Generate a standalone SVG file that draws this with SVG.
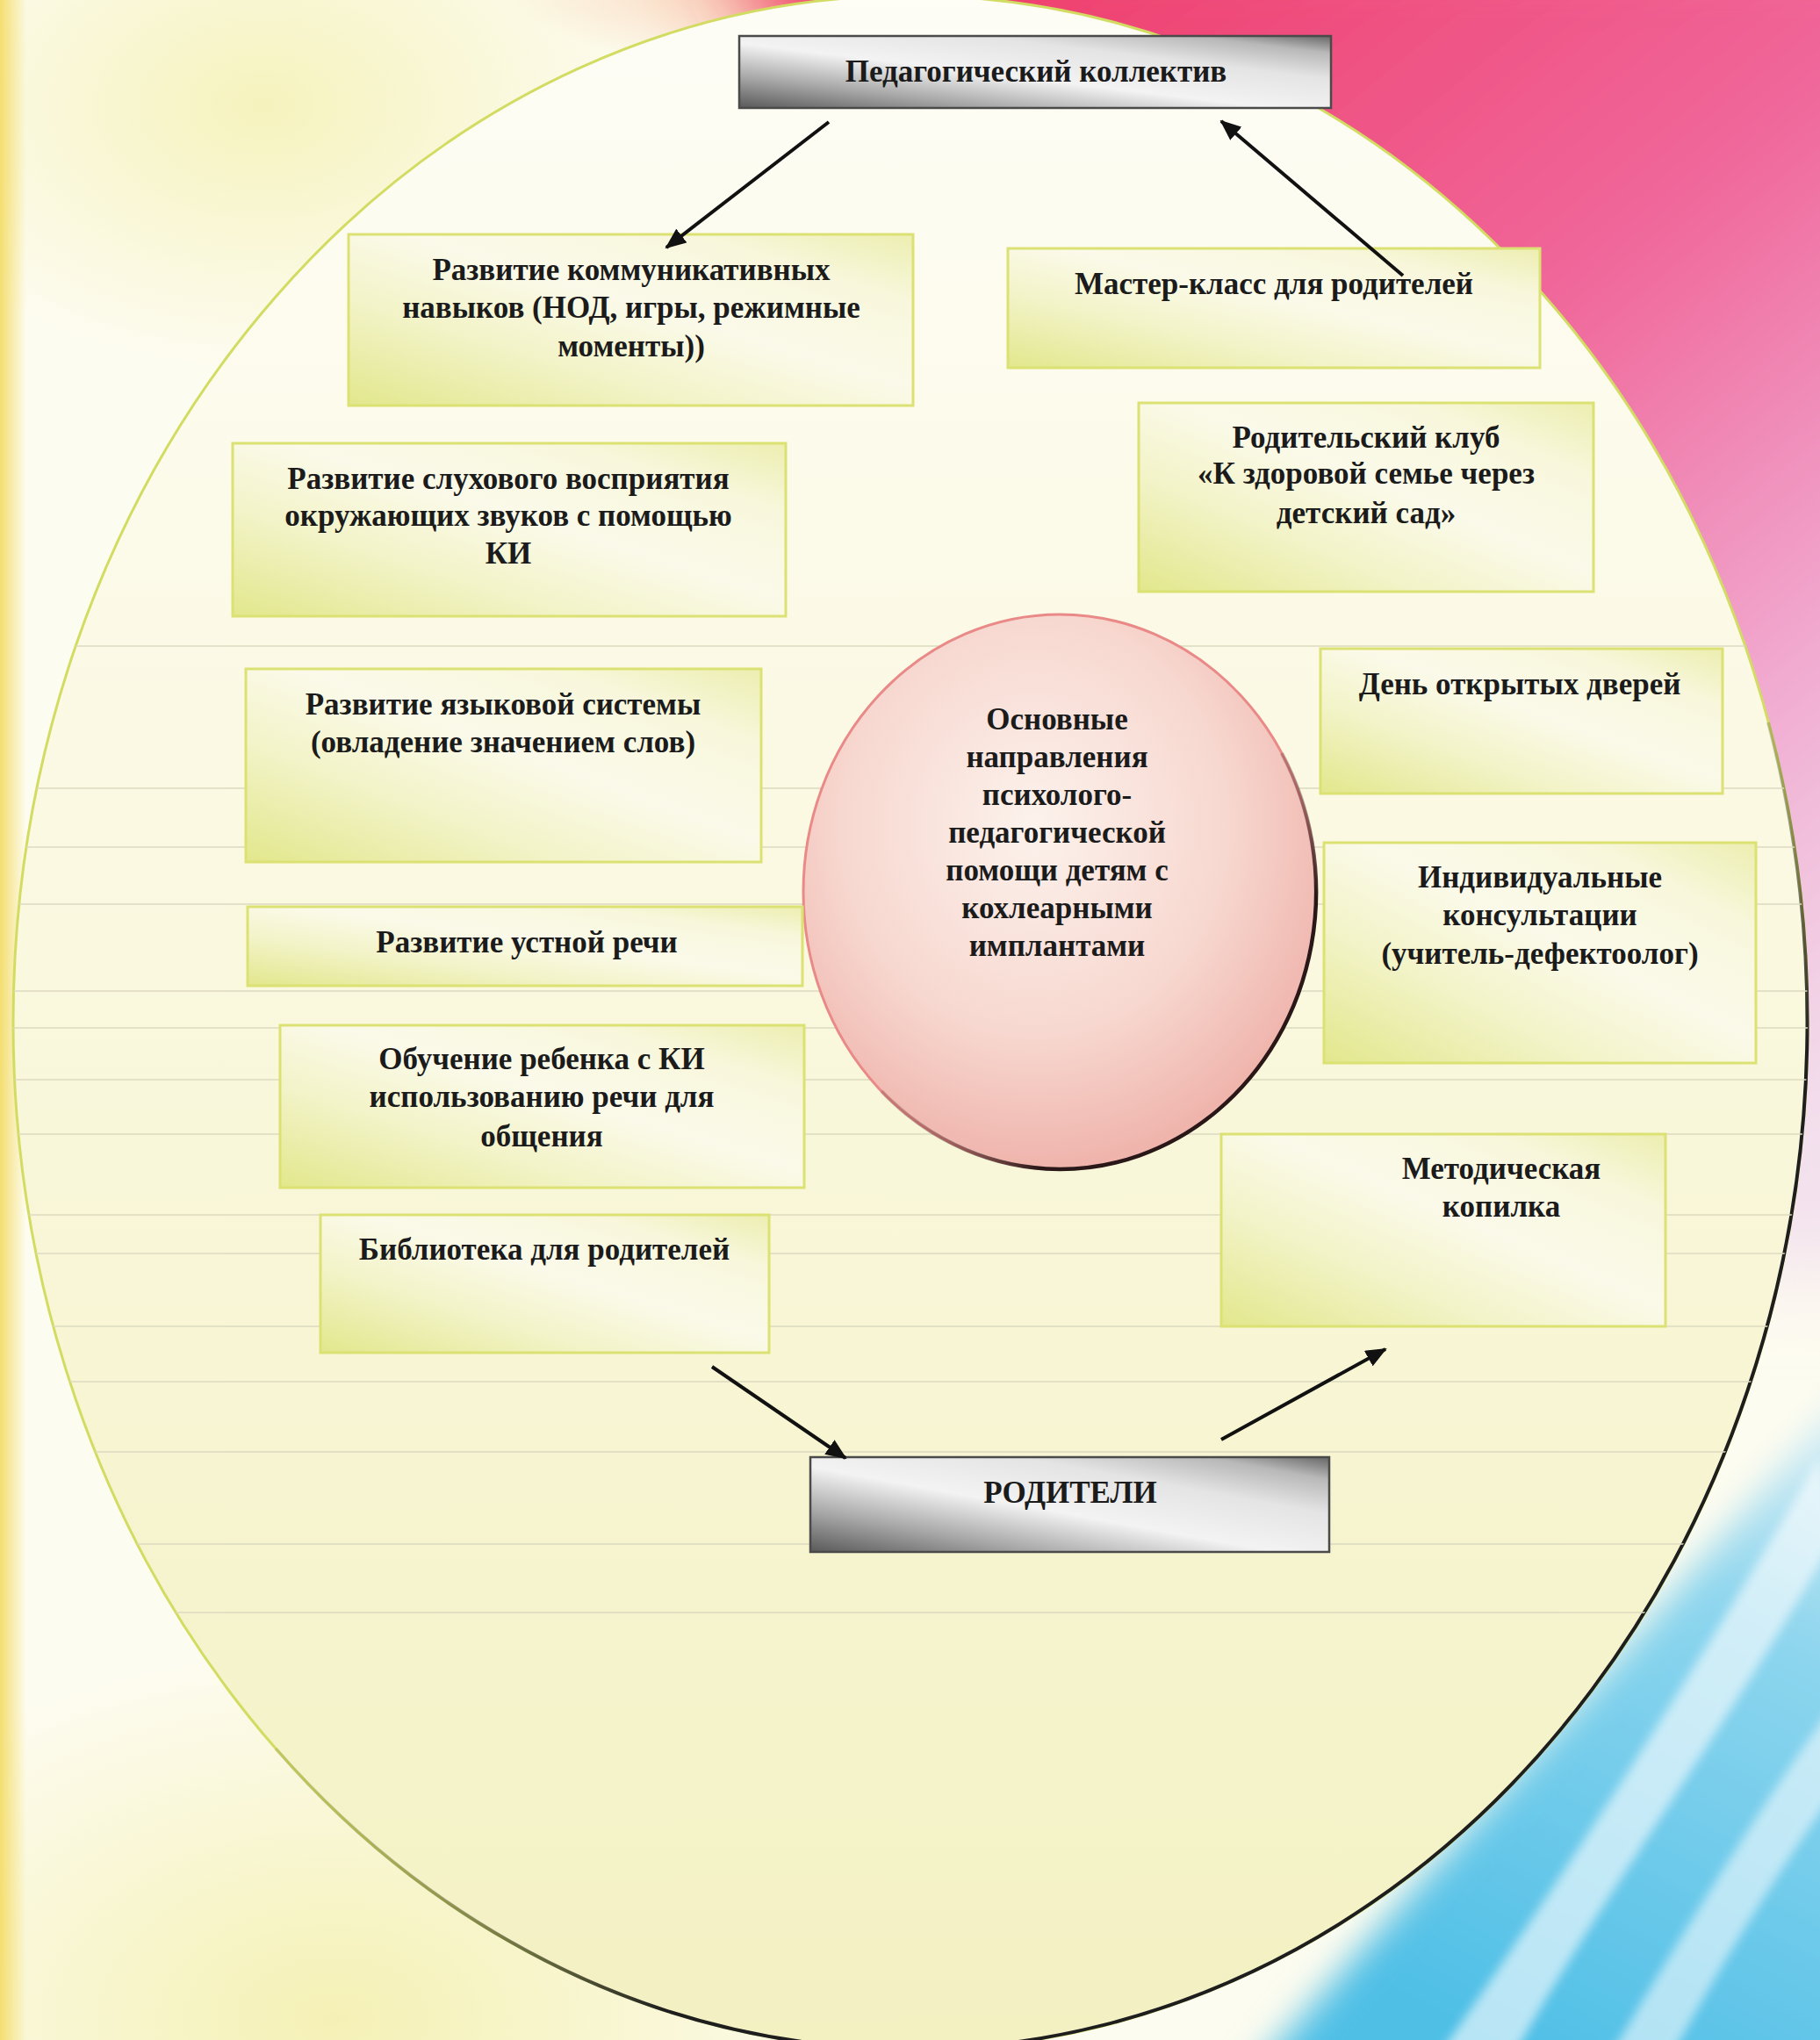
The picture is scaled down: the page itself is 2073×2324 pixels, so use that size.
<svg xmlns="http://www.w3.org/2000/svg" width="2073" height="2324" viewBox="0 0 2073 2324">
<defs>
<style>
.t{font-family:"Liberation Serif","Times New Roman",serif;font-size:35px;font-weight:bold;fill:#1b1b1b;text-anchor:middle}
.box{fill:url(#boxg);stroke:#dbe173;stroke-width:3}
.gbox{fill:url(#grayg);stroke:#4a4a4a;stroke-width:2.5}
.conn{stroke:#111;stroke-width:4;fill:none;marker-end:url(#arrow)}
.ruled{stroke:#dcdac0;stroke-width:2;opacity:.75}
</style>
<marker id="arrow" viewBox="0 0 12 10" refX="11" refY="5" markerWidth="6" markerHeight="5" orient="auto" markerUnits="strokeWidth">
<path d="M0,0 L12,5 L0,10 z" fill="#111"/>
</marker>
<linearGradient id="grayg" x1="0" y1="1" x2="1" y2="0">
<stop offset="0" stop-color="#595959"/><stop offset=".22" stop-color="#a8a8a8"/><stop offset=".45" stop-color="#f3f3f3"/><stop offset=".7" stop-color="#e4e4e4"/><stop offset=".88" stop-color="#b8b8b8"/><stop offset="1" stop-color="#666"/>
</linearGradient>
<linearGradient id="boxg" x1="0" y1="1" x2="1" y2="0">
<stop offset="0" stop-color="#e2e78c"/><stop offset=".3" stop-color="#f2f3c6"/><stop offset=".55" stop-color="#fbfaea"/><stop offset=".8" stop-color="#f8f7dc"/><stop offset="1" stop-color="#eceeb0"/>
</linearGradient>
<linearGradient id="inner" x1="0" y1="0" x2="0" y2="1">
<stop offset="0" stop-color="#fefdf6"/><stop offset=".4" stop-color="#fbf9e2"/><stop offset="1" stop-color="#f3f1c2"/>
</linearGradient>
<radialGradient id="circg" cx=".45" cy=".38" r=".62">
<stop offset="0" stop-color="#fcf2ec"/><stop offset=".6" stop-color="#f7d8d0"/><stop offset="1" stop-color="#efb4ac"/>
</radialGradient>
<linearGradient id="pinkg" gradientUnits="userSpaceOnUse" x1="1000" y1="0" x2="2073" y2="1300">
<stop offset="0" stop-color="#ef3a68"/><stop offset=".45" stop-color="#f0679a"/><stop offset=".75" stop-color="#f1acd2"/><stop offset="1" stop-color="#f3e2ee"/>
</linearGradient>
<radialGradient id="peachg" cx=".5" cy=".5" r=".5">
<stop offset="0" stop-color="#f5b48e"/><stop offset="1" stop-color="#f5b48e" stop-opacity="0"/>
</radialGradient>
<radialGradient id="yellowg" cx=".5" cy=".5" r=".5">
<stop offset="0" stop-color="#f1ec9c"/><stop offset="1" stop-color="#f1ec9c" stop-opacity="0"/>
</radialGradient>
<linearGradient id="leftstrip" x1="0" y1="0" x2="1" y2="0">
<stop offset="0" stop-color="#f4de70"/><stop offset="1" stop-color="#f4de70" stop-opacity="0"/>
</linearGradient>
<linearGradient id="cyang" gradientUnits="userSpaceOnUse" x1="2073" y1="1600" x2="1700" y2="2324">
<stop offset="0" stop-color="#d8eef6"/><stop offset=".3" stop-color="#8fd6ee"/><stop offset="1" stop-color="#4fbfe6"/>
</linearGradient>
<linearGradient id="darkfade" gradientUnits="userSpaceOnUse" x1="2030" y1="780" x2="300" y2="2010">
<stop offset="0" stop-color="#1e1e1e" stop-opacity="0"/><stop offset=".1" stop-color="#1e1e1e"/><stop offset=".9" stop-color="#1e1e1e"/><stop offset="1" stop-color="#1e1e1e" stop-opacity="0"/>
</linearGradient>
<linearGradient id="cdark" gradientUnits="userSpaceOnUse" x1="1470" y1="840" x2="990" y2="1250">
<stop offset="0" stop-color="#2a1818" stop-opacity="0"/><stop offset=".15" stop-color="#2a1818"/><stop offset=".85" stop-color="#2a1818"/><stop offset="1" stop-color="#2a1818" stop-opacity="0"/>
</linearGradient>
<filter id="blur50" x="-30%" y="-30%" width="160%" height="160%"><feGaussianBlur stdDeviation="50"/></filter>
<filter id="blur20" x="-30%" y="-30%" width="160%" height="160%"><feGaussianBlur stdDeviation="20"/></filter>
<filter id="blur6" x="-30%" y="-30%" width="160%" height="160%"><feGaussianBlur stdDeviation="6"/></filter>
<clipPath id="ell"><ellipse cx="1037" cy="1165" rx="1022" ry="1170"/></clipPath>
</defs>

<g id="background">
<rect x="0" y="0" width="2073" height="2324" fill="#fdfcf0"/>
<ellipse cx="380" cy="2300" rx="650" ry="420" fill="url(#yellowg)" opacity=".7"/>
<ellipse cx="300" cy="120" rx="450" ry="300" fill="url(#yellowg)" opacity=".6"/>
<ellipse cx="1050" cy="-20" rx="480" ry="120" fill="url(#peachg)"/>
<path d="M820,-100 L2200,-100 L2200,1450 L1950,1450 L1500,700 L1000,250 Z" fill="url(#pinkg)" filter="url(#blur50)"/>
<path d="M1350,2450 L2250,1420 L2250,2450 Z" fill="url(#cyang)" filter="url(#blur20)"/>
<path d="M1640,2340 C1800,2110 1945,1880 2073,1660 L2090,1750 C1980,1950 1830,2150 1725,2340 Z" fill="#ffffff" opacity=".6" filter="url(#blur6)"/>
<path d="M1835,2340 C1930,2180 2010,2050 2090,1940 L2090,2040 C2020,2140 1962,2235 1905,2340 Z" fill="#ffffff" opacity=".55" filter="url(#blur6)"/>
<rect x="0" y="0" width="30" height="2324" fill="url(#leftstrip)"/>
</g>

<g id="frame">
<ellipse cx="1037" cy="1165" rx="1022" ry="1170" fill="url(#inner)" stroke="#d3dc62" stroke-width="3"/>
<path d="M2014,823 A1022,1170 0 0 1 314,1992" fill="none" stroke="url(#darkfade)" stroke-width="4"/>
<g clip-path="url(#ell)" class="ruled">
<line x1="0" y1="736" x2="2073" y2="736"/>
<line x1="0" y1="898" x2="2073" y2="898"/>
<line x1="0" y1="965" x2="2073" y2="965"/>
<line x1="0" y1="1030" x2="2073" y2="1030"/>
<line x1="0" y1="1129" x2="2073" y2="1129"/>
<line x1="0" y1="1171" x2="2073" y2="1171"/>
<line x1="0" y1="1230" x2="2073" y2="1230"/>
<line x1="0" y1="1292" x2="2073" y2="1292"/>
<line x1="0" y1="1384" x2="2073" y2="1384"/>
<line x1="0" y1="1428" x2="2073" y2="1428"/>
<line x1="0" y1="1511" x2="2073" y2="1511"/>
<line x1="0" y1="1574" x2="2073" y2="1574"/>
<line x1="0" y1="1654" x2="2073" y2="1654"/>
<line x1="0" y1="1759" x2="2073" y2="1759"/>
<line x1="0" y1="1837" x2="2073" y2="1837"/>
</g>
</g>

<g id="center">
<ellipse cx="1207" cy="1016" rx="292" ry="316" fill="url(#circg)" stroke="#e98a88" stroke-width="3"/>
<path d="M1460,858 A292,316 0 0 1 1004,1243" fill="none" stroke="url(#cdark)" stroke-width="4.5"/>
<text class="t" x="1204" y="831">Основные</text>
<text class="t" x="1204" y="874">направления</text>
<text class="t" x="1204" y="917">психолого-</text>
<text class="t" x="1204" y="960">педагогической</text>
<text class="t" x="1204" y="1003">помощи детям с</text>
<text class="t" x="1204" y="1046">кохлеарными</text>
<text class="t" x="1204" y="1089">имплантами</text>
</g>

<g id="ped-collective">
<rect class="gbox" x="842" y="41" width="674" height="82"/>
<text class="t" x="1180" y="93">Педагогический коллектив</text>
</g>

<g id="communication">
<rect class="box" x="397" y="267" width="643" height="195"/>
<text class="t" x="719" y="319">Развитие коммуникативных</text>
<text class="t" x="719" y="362">навыков (НОД, игры, режимные</text>
<text class="t" x="719" y="406">моменты))</text>
</g>

<g id="master-class">
<rect class="box" x="1148" y="283" width="606" height="136"/>
<text class="t" x="1451" y="335">Мастер-класс для родителей</text>
</g>

<g id="hearing">
<rect class="box" x="265" y="505" width="630" height="197"/>
<text class="t" x="579" y="557">Развитие слухового восприятия</text>
<text class="t" x="579" y="599">окружающих звуков с помощью</text>
<text class="t" x="579" y="642">КИ</text>
</g>

<g id="parent-club">
<rect class="box" x="1297" y="459" width="518" height="215"/>
<text class="t" x="1556" y="510">Родительский клуб</text>
<text class="t" x="1556" y="551">«К здоровой семье через</text>
<text class="t" x="1556" y="596">детский сад»</text>
</g>

<g id="language">
<rect class="box" x="280" y="762" width="587" height="220"/>
<text class="t" x="573" y="814">Развитие языковой системы</text>
<text class="t" x="573" y="857">(овладение значением слов)</text>
</g>

<g id="open-day">
<rect class="box" x="1504" y="739" width="458" height="165"/>
<text class="t" x="1731" y="791">День открытых дверей</text>
</g>

<g id="oral-speech">
<rect class="box" x="282" y="1033" width="632" height="90"/>
<text class="t" x="600" y="1085">Развитие устной речи</text>
</g>

<g id="consultations">
<rect class="box" x="1508" y="960" width="492" height="251"/>
<text class="t" x="1754" y="1011">Индивидуальные</text>
<text class="t" x="1754" y="1054">консультации</text>
<text class="t" x="1754" y="1098">(учитель-дефектоолог)</text>
</g>

<g id="speech-use">
<rect class="box" x="319" y="1168" width="597" height="185"/>
<text class="t" x="617" y="1218">Обучение ребенка с КИ</text>
<text class="t" x="617" y="1261">использованию речи для</text>
<text class="t" x="617" y="1306">общения</text>
</g>

<g id="method-bank">
<rect class="box" x="1391" y="1292" width="506" height="219"/>
<text class="t" x="1710" y="1343">Методическая</text>
<text class="t" x="1710" y="1386">копилка</text>
</g>

<g id="library">
<rect class="box" x="365" y="1384" width="511" height="157"/>
<text class="t" x="620" y="1435">Библиотека для родителей</text>
</g>

<g id="parents">
<rect class="gbox" x="923" y="1660" width="591" height="108"/>
<text class="t" x="1219" y="1712">РОДИТЕЛИ</text>
</g>

<g id="connectors">
<line class="conn" x1="944" y1="139" x2="759" y2="282"/>
<line class="conn" x1="1598" y1="314" x2="1391" y2="138"/>
<line class="conn" x1="811" y1="1557" x2="963" y2="1661"/>
<line class="conn" x1="1391" y1="1640" x2="1578" y2="1537"/>
</g>
</svg>
